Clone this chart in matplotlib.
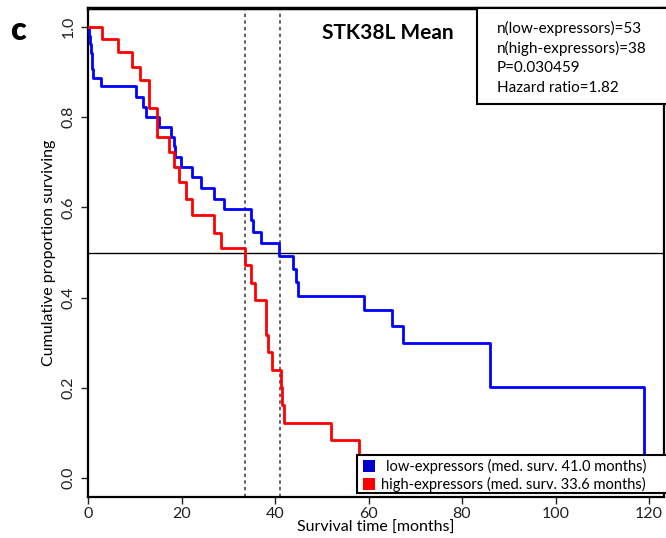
import numpy as np
import matplotlib
matplotlib.use('Agg')
import matplotlib.pyplot as plt
from matplotlib.patches import Rectangle

plt.rcParams['font.family'] = ['Lato', 'DejaVu Sans']

# Kaplan-Meier steps (months, proportion surviving)
low_t = [0, 0.2, 0.4, 0.6, 0.8, 1.0, 2.7, 10.2, 11.8, 12.3, 15.2, 17.8, 18.3, 18.6, 19.9,
         22.3, 24.2, 27.0, 29.1, 34.8, 35.2, 37.0, 40.9, 43.9, 44.4, 44.9, 59.0, 65.0,
         67.3, 86.0, 119.0]
low_s = [1.0, 0.981, 0.962, 0.943, 0.906, 0.886, 0.868, 0.845, 0.822, 0.801, 0.779, 0.757,
         0.735, 0.712, 0.690, 0.667, 0.642, 0.619, 0.596, 0.572, 0.546, 0.520, 0.492, 0.463,
         0.434, 0.404, 0.372, 0.337, 0.300, 0.202, 0.0]

high_t = [0, 3.1, 6.5, 9.5, 11.1, 13.0, 14.8, 17.3, 18.3, 19.5, 21.0, 22.3, 27.0, 28.5,
          33.6, 34.9, 35.7, 38.0, 38.6, 39.3, 41.3, 41.6, 42.0, 52.0, 58.0]
high_s = [1.0, 0.973, 0.944, 0.912, 0.882, 0.820, 0.757, 0.723, 0.690, 0.656, 0.618, 0.583,
          0.543, 0.509, 0.472, 0.433, 0.395, 0.317, 0.279, 0.239, 0.201, 0.162, 0.123,
          0.084, 0.0]

medians = [41.0, 33.6]
n_low, n_high = 53, 38
p_value = '0.030459'
hazard_ratio = '1.82'
x_ticks = [0, 20, 40, 60, 80, 100, 120]
y_ticks = [0.0, 0.2, 0.4, 0.6, 0.8, 1.0]

W, H = 666, 538
fig = plt.figure(figsize=(W / 100, H / 100), dpi=100)
# axes frame in pixels: x 88..664, y 8..497
AX_L, AX_R, AX_T, AX_B = 88, 664, 8, 497
ax = fig.add_axes([AX_L / W, 1 - AX_B / H, (AX_R - AX_L) / W, (AX_B - AX_T) / H])

def ax_x(px):
    return (px - AX_L) / (AX_R - AX_L)

def ax_y(py):
    return (AX_B - py) / (AX_B - AX_T)

ax.step(low_t, low_s, where='post', color='#0000ff', lw=2.0, zorder=3)
ax.step(high_t, high_s, where='post', color='#ff0000', lw=2.0, zorder=3)

for m in medians:
    ax.axvline(m, color='#444444', lw=1.2, linestyle=(0, (2, 2)), zorder=2)
ax.axhline(0.5, color='black', lw=1.0, zorder=2)

ax.set_xlim(0, 123.2)
ax.set_ylim(-0.042, 1.042)
ax.set_xticks(x_ticks)
ax.set_yticks(y_ticks)
ax.set_xticklabels([str(v) for v in x_ticks])
ax.set_yticklabels(['%.1f' % v for v in y_ticks], rotation=90, va='center')
ax.tick_params(axis='both', labelsize=11.5, length=5, width=1, direction='out', colors='#222222')
ax.tick_params(axis='x', pad=2)
ax.tick_params(axis='y', pad=4)
for s in ax.spines.values():
    s.set_linewidth(1.6)
ax.spines['top'].set_linewidth(2.5)

ax.set_xlabel('Survival time [months]', fontsize=11.5, labelpad=0)
ax.set_ylabel('Cumulative proportion surviving', fontsize=11.5, labelpad=4)

# title and panel letter
ax.text(ax_x(388), ax_y(33), 'STK38L Mean', transform=ax.transAxes, fontsize=15,
        fontweight='bold', ha='center', va='center')
fig.text(10 / W, 1 - 31 / H, 'c', fontsize=23, fontweight='heavy', ha='left', va='center')

# stats box (top right)
ax.add_patch(Rectangle((ax_x(477), ax_y(104)), ax_x(700) - ax_x(477), ax_y(8) - ax_y(104),
                       transform=ax.transAxes, facecolor='white', edgecolor='black',
                       lw=1.5, zorder=5, clip_on=False))
stats = ['n(low-expressors)=%d' % n_low, 'n(high-expressors)=%d' % n_high,
         'P=' + p_value, 'Hazard ratio=' + hazard_ratio]
for i, line in enumerate(stats):
    ax.text(ax_x(497), ax_y(28 + 20 * i), line, transform=ax.transAxes, fontsize=11,
            ha='left', va='center', zorder=6)

# legend box (bottom right)
ax.add_patch(Rectangle((ax_x(357), ax_y(493)), ax_x(700) - ax_x(357), ax_y(455) - ax_y(493),
                       transform=ax.transAxes, facecolor='white', edgecolor='black',
                       lw=1.5, zorder=5, clip_on=False))
leg_labels = ['low-expressors (med. surv. %.1f months)' % medians[0],
              'high-expressors (med. surv. %.1f months)' % medians[1]]
leg_colors = ['#0000cc', '#ff0000']
for i, (lab, c) in enumerate(zip(leg_labels, leg_colors)):
    yc = 466 + 18 * i
    ax.add_patch(Rectangle((ax_x(363), ax_y(yc + 6)), ax_x(375) - ax_x(363),
                           ax_y(yc - 6) - ax_y(yc + 6), transform=ax.transAxes,
                           facecolor=c, edgecolor='none', zorder=6, clip_on=False))
    ax.text(ax_x(646), ax_y(yc), lab, transform=ax.transAxes, fontsize=10.5,
            ha='right', va='center', zorder=6)

fig.savefig('out.png', dpi=100)
